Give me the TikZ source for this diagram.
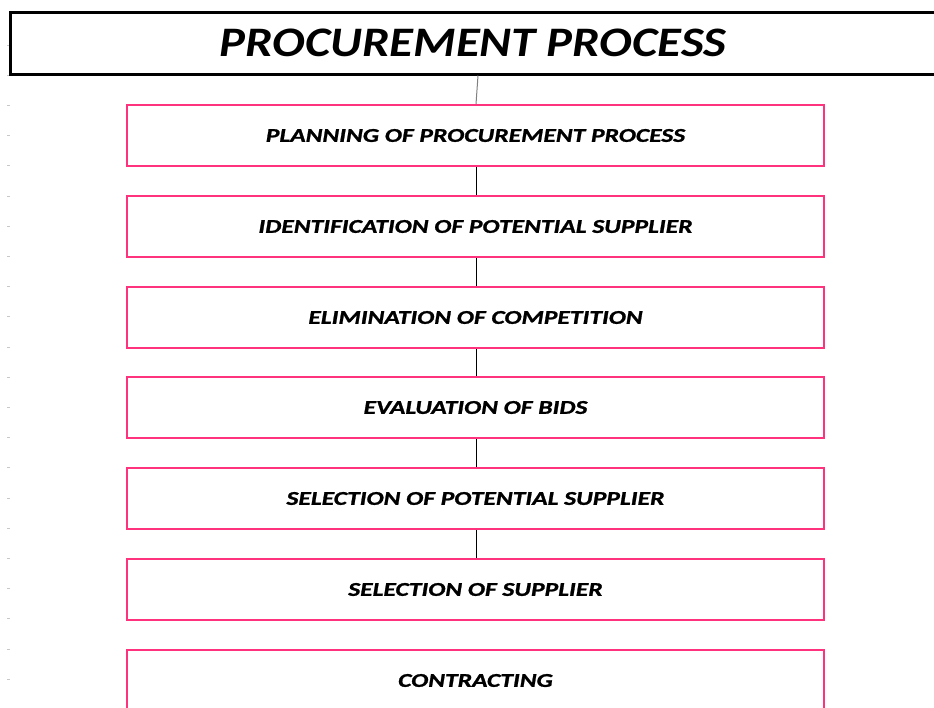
\documentclass[tikz,border=0pt]{standalone}
\usepackage{fontspec}
\setmainfont{Carlito}
\newfontfamily\titlefont[FakeStretch=1.16]{Carlito}
\newfontfamily\boxfont[FakeStretch=1.31,FakeBold=1.2]{Carlito}
\definecolor{boxpink}{RGB}{255,50,125}
\definecolor{tickgray}{RGB}{200,200,200}
\begin{document}
\begin{tikzpicture}[x=1pt,y=-1pt,
  titlebox/.style={draw=black,line width=3pt,minimum width=926pt,minimum height=62pt,inner sep=0pt,
    font=\titlefont\fontsize{42}{46}\selectfont\bfseries\itshape},
  stepbox/.style={draw=boxpink,line width=1.8pt,minimum width=697pt,minimum height=61pt,inner sep=0pt,
    font=\boxfont\fontsize{19.5}{22}\selectfont\bfseries\itshape},
  link/.style={draw=black,line width=1pt},
  tick/.style={draw=tickgray,line width=0.8pt}]
\useasboundingbox (0,0) rectangle (934,707);
\clip (0,0) rectangle (934,707);
\fill[white] (0,0) rectangle (934,707);
\foreach \k in {0,...,21} {
  \draw[tick] (7,{45+30.2*\k}) -- (10,{45+30.2*\k});
}
\node[titlebox] (title) at (473,43) {\raisebox{-2.5pt}{PROCUREMENT PROCESS}};
\node[stepbox] (s1) at (475.5,135.5) {\raisebox{-3pt}{PLANNING OF PROCUREMENT PROCESS}};
\node[stepbox] (s2) at (475.5,226.5) {\raisebox{-3pt}{IDENTIFICATION OF POTENTIAL SUPPLIER}};
\node[stepbox] (s3) at (475.5,317.5) {\raisebox{-3pt}{ELIMINATION OF COMPETITION}};
\node[stepbox] (s4) at (475.5,407.5) {\raisebox{-3pt}{EVALUATION OF BIDS}};
\node[stepbox] (s5) at (475.5,498.5) {\raisebox{-3pt}{SELECTION OF POTENTIAL SUPPLIER}};
\node[stepbox] (s6) at (475.5,589.5) {\raisebox{-3pt}{SELECTION OF SUPPLIER}};
\node[stepbox] (s7) at (475.5,680.5) {\raisebox{-3pt}{CONTRACTING}};
\draw[draw=gray,line width=1pt] ([xshift=5pt]title.south) -- ([xshift=0.5pt]s1.north);
\draw[link] ([xshift=0.5pt]s1.south) -- ([xshift=0.5pt]s2.north);
\draw[link] ([xshift=0.5pt]s2.south) -- ([xshift=0.5pt]s3.north);
\draw[link] ([xshift=0.5pt]s3.south) -- ([xshift=0.5pt]s4.north);
\draw[link] ([xshift=0.5pt]s4.south) -- ([xshift=0.5pt]s5.north);
\draw[link] ([xshift=0.5pt]s5.south) -- ([xshift=0.5pt]s6.north);
\end{tikzpicture}
\end{document}
